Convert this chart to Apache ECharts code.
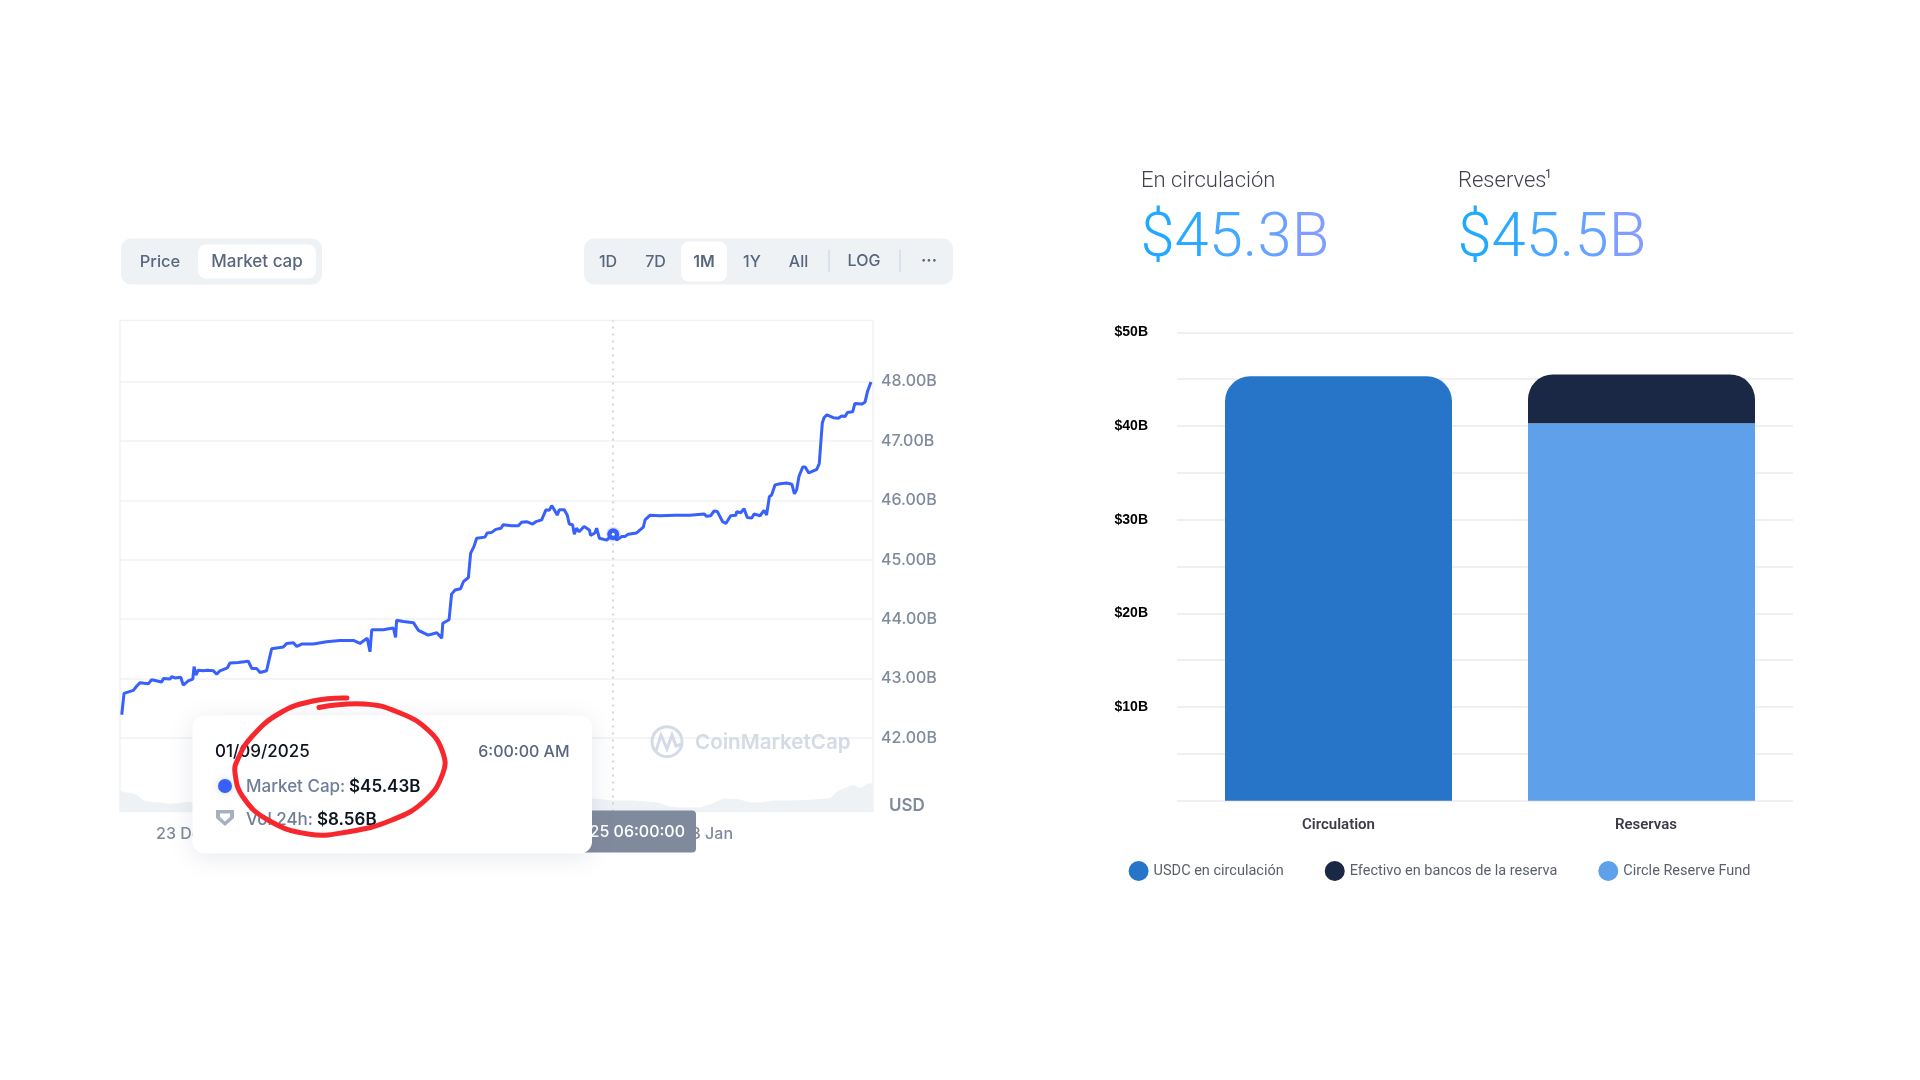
<!DOCTYPE html>
<html>
<head>
<meta charset="utf-8">
<style>html,body{margin:0;padding:0;background:#fff}#c{width:1920px;height:1080px}</style>
<script src="https://cdn.jsdelivr.net/npm/echarts@6/dist/echarts.min.js"></script>
</head>
<body>
<div id="c"></div>
<script>
// Days are counted from 1 Dec 2024 (32 = 1 Jan 2025)
const priceDays = [20.67,20.76,21.13,21.26,21.40,21.73,21.86,22.26,22.33,22.59,22.66,22.79,23.02,23.12,23.32,23.50,23.55,23.63,23.72,23.92,24.08,24.32,24.45,24.58,24.88,24.98,25.31,25.71,25.85,26.04,26.18,26.44,26.64,27.11,27.24,27.51,27.64,27.84,28.30,28.83,29.36,29.90,30.16,30.45,30.56,30.63,31.09,31.49,31.58,31.62,31.89,32.29,32.49,32.88,33.22,33.42,33.46,33.71,33.81,33.95,34.17,34.28,34.48,34.57,34.70,34.81,35.14,35.23,35.41,35.57,35.78,35.87,36.20,36.47,36.60,36.80,37.04,37.17,37.40,37.57,37.70,37.80,37.89,38.02,38.10,38.30,38.42,38.50,38.63,38.70,38.79,38.89,39.09,39.30,39.35,39.52,39.59,39.70,39.99,40.25,40.39,40.59,40.72,40.85,41.18,41.45,41.52,41.72,42.11,42.71,43.31,43.87,43.97,44.13,44.27,44.40,44.61,44.74,44.93,45.14,45.17,45.33,45.46,45.59,45.77,45.86,46.10,46.26,46.36,46.47,46.56,46.70,46.90,47.16,47.37,47.47,47.56,47.65,47.80,47.90,48.04,48.36,48.46,48.53,48.58,48.65,48.76,49.02,49.22,49.35,49.49,49.58,49.79,49.88,50.15,50.28,50.38,50.52];
const priceValues = [42.39,42.75,42.80,42.87,42.93,42.91,42.98,42.94,43.00,42.99,43.03,43.01,43.02,42.89,42.96,42.99,43.20,43.06,43.14,43.13,43.14,43.13,43.07,43.13,43.18,43.26,43.27,43.29,43.17,43.17,43.10,43.13,43.50,43.53,43.59,43.60,43.54,43.58,43.58,43.62,43.64,43.64,43.59,43.68,43.45,43.82,43.82,43.85,43.69,43.98,43.96,43.94,43.81,43.73,43.77,43.68,43.93,43.99,44.42,44.49,44.51,44.63,44.70,45.11,45.22,45.36,45.38,45.45,45.46,45.51,45.53,45.59,45.57,45.57,45.63,45.64,45.60,45.64,45.67,45.84,45.83,45.91,45.85,45.75,45.84,45.84,45.75,45.60,45.59,45.43,45.53,45.47,45.56,45.50,45.41,45.45,45.53,45.36,45.33,45.43,45.33,45.39,45.39,45.43,45.45,45.55,45.67,45.75,45.74,45.75,45.75,45.77,45.73,45.74,45.82,45.81,45.64,45.61,45.74,45.75,45.81,45.79,45.86,45.71,45.70,45.77,45.74,45.83,45.75,46.06,46.09,46.26,46.28,46.29,46.27,46.11,46.18,46.40,46.56,46.56,46.46,46.52,46.62,47.02,47.30,47.39,47.44,47.39,47.38,47.42,47.41,47.48,47.49,47.63,47.62,47.65,47.83,47.99];
const volDays = [20.6,20.8,21.13,21.33,21.53,21.86,22.19,22.52,22.86,23.25,24.5,26,28,30,32,34,36,38,39.39,40.25,41.05,41.98,42.51,42.9,43.7,44.23,44.63,45.16,45.69,46.09,46.62,47.29,48.08,48.88,49.21,49.81,50.08,50.41,50.59];
const volValues = [16.4,15.1,14.3,12.2,8.6,7.5,7,6,6.5,7.5,7,9,8,7.5,12,15,11,10,10.4,8.56,8.6,7.3,3.9,3.1,3.1,6.5,10.1,9.9,7.3,7,8.6,8.6,9.1,10.4,16.4,20.8,18.2,22.1,21.6];
const xTickDays = [23.12,30.1,37.1,44.05];
const xTickLabels = ['23 Dec','30 Dec','6 Jan','13 Jan'];
const hoverDay = 40.25;
const hoverCap = 45.43;
const capTicks = [42,43,44,45,46,47,48];

const barCategories = ['Circulation','Reservas'];
const usdcCirculation = [45.3,null];
const cashReserve = [null,5.2];
const fundReserve = [null,40.3];
const barLegend = ['USDC en circulación','Efectivo en bancos de la reserva','Circle Reserve Fund'];

const priceData = priceDays.map((d,i)=>[d,priceValues[i]]);
const volData = volDays.map((d,i)=>[d,volValues[i]]);

const G='#eff2f5', FG='#58667e', AX='#808a9d', DK='#0d1421', INTER='Inter';
function T(x,y,text,font,fill,align,z){
  return {type:'text',x:x,y:y,z:z||5,silent:true,style:{text:text,font:font,fill:fill,align:align||'left',verticalAlign:'middle',textAlign:align||'left',textVerticalAlign:'middle'}};
}
function R(x,y,w,h,r,fill,z,extra){
  return {type:'rect',z:z||3,silent:true,shape:{x:x,y:y,width:w,height:h,r:r},style:Object.assign({fill:fill},extra||{})};
}
function L(x1,y1,x2,y2,c,z){return {type:'line',z:z||4,silent:true,shape:{x1,y1,x2,y2},style:{stroke:c,lineWidth:1.5}};}
const grad=['#1fa9ff','#2ba8ff','#45a7ff','#5aa5ff','#66a2ff','#7f9eff'];
function bigNum(x,y,text){
  const rich={}; let s='';
  text.split('').forEach((ch,i)=>{rich['c'+i]={fill:grad[i],fontFamily:'Roboto',fontWeight:300,fontSize:61.5}; s+='{c'+i+'|'+ch+'}';});
  return {type:'text',x:x,y:y,z:5,silent:true,style:{text:s,rich:rich,align:'left',verticalAlign:'middle',textAlign:'left',textVerticalAlign:'middle'}};
}
const el=[
  R(121,238.5,201,46,10,G),
  R(198,244.5,118,34,8,'#fff',3),
  T(160,262,'Price','500 16.5px '+INTER,FG,'center'),
  T(257,262,'Market cap','500 17px '+INTER,FG,'center'),
  R(584,238.5,369,46,10,G),
  R(681,241.5,46,40,8,'#fff',3),
  T(608,262.5,'1D','500 16px '+INTER,FG,'center'),
  T(655.5,262.5,'7D','500 16px '+INTER,FG,'center'),
  T(704,262.5,'1M','600 16px '+INTER,FG,'center'),
  T(752,262.5,'1Y','500 16px '+INTER,FG,'center'),
  T(798.5,262.5,'All','500 16px '+INTER,FG,'center'),
  T(864,261.5,'LOG','500 16px '+INTER,FG,'center'),
  T(929,261,'···','700 16px '+INTER,FG,'center'),
  L(829,250,829,272,'#d5dbe6'),
  L(900,250,900,272,'#d5dbe6'),
  T(889,806,'USD','600 17px '+INTER,AX),
  // watermark
  {type:'circle',z:3,silent:true,shape:{cx:667,cy:741.7,r:15},style:{fill:'none',stroke:'#d5dbe6',lineWidth:3}},
  {type:'polyline',z:3,silent:true,shape:{points:[[656,751],[661,735],[667,749],[672,735],[676,746],[682,744]]},style:{fill:'none',stroke:'#d5dbe6',lineWidth:3}},
  T(695,743,'CoinMarketCap','600 20.6px '+INTER,'#d5dbe6','left',3),
  // crosshair label behind tooltip
  R(531,810.5,165,42,[4,4,4,4],'#808a9d',40),
  T(685,832,'01/09/2025 06:00:00','500 16px '+INTER,'#fff','right',41),
  // tooltip
  R(192.5,715.5,399.5,138,12,'#fff',50,{shadowBlur:24,shadowColor:'rgba(88,102,126,0.14)',shadowOffsetY:4}),
  T(215,752,'01/09/2025','500 17px '+INTER,DK,'left',51),
  T(569.5,752,'6:00:00 AM','500 16px '+INTER,FG,'right',51),
  {type:'circle',z:51,silent:true,shape:{cx:225,cy:786,r:7},style:{fill:'#3861fb',shadowBlur:6,shadowColor:'rgba(88,102,126,0.3)'}},
  T(246,787,'Market Cap:','500 17px '+INTER,'#6f7d96','left',51),
  T(349,787,'$45.43B','600 17px '+INTER,DK,'left',51),
  {type:'polygon',z:51,silent:true,shape:{points:[[216,810],[234,810],[234,818],[225,826],[216,818]]},style:{fill:'#a6b0c3'}},
  {type:'polygon',z:51,silent:true,shape:{points:[[220,813.5],[230,813.5],[230,817],[225,821.5],[220,817]]},style:{fill:'#fff'}},
  T(246,820,'Vol 24h:','500 17px '+INTER,'#6f7d96','left',51),
  T(317,820,'$8.56B','600 17px '+INTER,DK,'left',51),
  // red hand-drawn ring
  {type:'polyline',z:60,silent:true,shape:{smooth:0.45,points:[[347,698],[313,701],[280,713],[251.5,737],[237.5,760],[235,773],[243,797],[268,820],[308,834],[347,832],[392,820],[425.5,800],[443,773],[443,753],[428,730],[397.5,712],[364,704],[319,707.5]]},style:{fill:'none',stroke:'#f7282d',lineWidth:5,lineCap:'round'}},
  // right headers
  T(1141,181.5,'En circulación','300 22px Roboto','#3f3f50'),
  T(1458,181.5,'Reserves','300 22px Roboto','#3f3f50'),
  T(1545,175,'1','400 12px Roboto','#3f3f50'),
  bigNum(1140.5,241,'$45.3B'),
  bigNum(1457.5,241,'$45.5B')
];

const option={
  animation:false,
  backgroundColor:'#fff',
  textStyle:{fontFamily:INTER},
  legend:{
    left:1123.6, top:856, itemWidth:20, itemHeight:20, itemGap:41, icon:'circle', selectedMode:false,
    data:barLegend,
    textStyle:{fontFamily:'Roboto',fontSize:14.5,color:'#5a5f6c'}
  },
  grid:[
    {left:120,width:753,top:322.1,height:475.2},
    {left:120,width:753,top:320.5,height:491,show:true,borderColor:G,borderWidth:1.5,backgroundColor:'transparent'},
    {left:1177,width:616,top:332.3,height:468.4},
    {left:1187,width:606,top:332.3,height:468.4}
  ],
  xAxis:[
    {type:'value',gridIndex:0,min:20.6,max:50.6,show:false,splitLine:{show:false}},
    {type:'value',gridIndex:1,min:20.6,max:50.6,
      axisLine:{show:false},axisTick:{show:false},splitLine:{show:false},
      axisLabel:{customValues:xTickDays,formatter:(v)=>xTickLabels[xTickDays.indexOf(v)],color:AX,fontSize:16,fontWeight:500,fontFamily:INTER,margin:15,hideOverlap:false}},
    {type:'value',gridIndex:2,min:0,max:1,show:false},
    {type:'category',gridIndex:3,data:barCategories,
      axisLine:{show:false},axisTick:{show:false},
      axisLabel:{margin:17,interval:0,
        formatter:(v,i)=>i===1?'{s|'+v+'}':'{n|'+v+'}',
        rich:{n:{color:'#3b3b4a',fontSize:15,fontWeight:600,fontFamily:'Roboto'},
              s:{color:'#3b3b4a',fontSize:15,fontWeight:600,fontFamily:'Roboto',padding:[0,0,0,9]}}}}
  ],
  yAxis:[
    {type:'value',gridIndex:0,position:'right',min:41,max:49,interval:1,
      axisLine:{show:false},axisTick:{show:false},
      axisLabel:{customValues:capTicks,formatter:v=>v.toFixed(2)+'B',color:AX,fontSize:16,fontWeight:500,fontFamily:INTER,margin:8},
      splitLine:{show:true,showMinLine:false,showMaxLine:false,lineStyle:{color:G,width:1.5}}},
    {type:'value',gridIndex:1,min:0,max:383,show:false,splitLine:{show:false}},
    {type:'value',gridIndex:2,min:0,max:50,interval:5,
      axisLine:{show:false},axisTick:{show:false},
      axisLabel:{formatter:v=>(v>0&&v%10===0)?'$'+v+'B':'',color:'#000',fontSize:14,fontWeight:700,fontFamily:'Liberation Sans',margin:29},
      splitLine:{show:true,lineStyle:{color:'#ebebeb',width:1.5}}},
    {type:'value',gridIndex:3,min:0,max:50,show:false,splitLine:{show:false}}
  ],
  series:[
    {name:'Vol',type:'line',xAxisIndex:1,yAxisIndex:1,data:volData,symbol:'none',silent:true,
      lineStyle:{width:0},areaStyle:{color:G,opacity:1},
      markLine:{silent:true,symbol:'none',label:{show:false},lineStyle:{color:'#c3c9d4',type:[2,5],width:1.5},data:[{xAxis:hoverDay}]}},
    {name:'Market Cap',type:'line',xAxisIndex:0,yAxisIndex:0,data:priceData,symbol:'none',silent:true,
      lineStyle:{color:'#3861fb',width:3},
      markPoint:{silent:true,symbol:'circle',label:{show:false},data:[
        {coord:[hoverDay,hoverCap],symbolSize:12,itemStyle:{color:'#3861fb',borderColor:'rgba(56,97,251,0.15)',borderWidth:3}},
        {coord:[hoverDay,hoverCap],symbolSize:3,itemStyle:{color:'#fff'}}
      ]}},
    {name:barLegend[2],type:'bar',stack:'r',xAxisIndex:3,yAxisIndex:3,barWidth:227,data:fundReserve,itemStyle:{color:'#5ea1ea'}},
    {name:barLegend[1],type:'bar',stack:'r',xAxisIndex:3,yAxisIndex:3,barWidth:227,data:cashReserve,itemStyle:{color:'#1a2745',borderRadius:[25,25,0,0]}},
    {name:barLegend[0],type:'bar',stack:'r',xAxisIndex:3,yAxisIndex:3,barWidth:227,data:usdcCirculation,itemStyle:{color:'#2775c9',borderRadius:[25,25,0,0]}}
  ],
  graphic:{elements:el}
};
echarts.init(document.getElementById('c')).setOption(option);
</script>
</body>
</html>
